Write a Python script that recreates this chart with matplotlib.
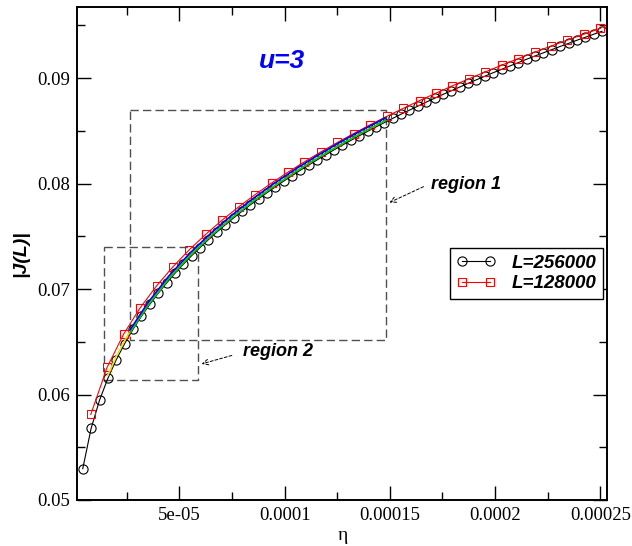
import numpy as np
import matplotlib
matplotlib.use("Agg")
import matplotlib.pyplot as plt
from matplotlib.ticker import FixedLocator, MultipleLocator

# eta values below are in units of 1e-6
eta_256k = [4.09, 8.07, 12.05, 16.03, 20.01, 23.99, 27.96, 31.94, 35.92, 39.90,
            43.88, 47.86, 51.84, 55.82, 59.80, 63.78, 67.75, 71.73, 75.71, 79.69,
            83.67, 87.65, 91.63, 95.61, 99.59, 103.57, 107.54, 111.52, 115.50, 119.48,
            123.46, 127.44, 131.42, 135.40, 139.38, 143.36, 147.33, 151.31, 155.29, 159.27,
            163.25, 167.23, 171.21, 175.19, 179.17, 183.15, 187.12, 191.10, 195.08, 199.06,
            203.04, 207.02, 211.00, 214.98, 218.96, 222.94, 226.91, 230.89, 234.87, 238.85,
            242.83, 246.81, 250.79]
J_256k = [0.05297, 0.05679, 0.05945, 0.06154, 0.06330, 0.06482, 0.06618, 0.06741, 0.06854, 0.06959,
          0.07056, 0.07148, 0.07234, 0.07316, 0.07393, 0.07468, 0.07539, 0.07607, 0.07673, 0.07736,
          0.07797, 0.07856, 0.07913, 0.07969, 0.08023, 0.08075, 0.08127, 0.08176, 0.08225, 0.08272,
          0.08319, 0.08364, 0.08408, 0.08452, 0.08494, 0.08536, 0.08577, 0.08617, 0.08657, 0.08695,
          0.08733, 0.08771, 0.08808, 0.08844, 0.08879, 0.08914, 0.08949, 0.08983, 0.09017, 0.09050,
          0.09082, 0.09114, 0.09146, 0.09178, 0.09209, 0.09239, 0.09269, 0.09299, 0.09328, 0.09358,
          0.09386, 0.09415, 0.09443]

eta_128k = [7.90, 15.71, 23.52, 31.33, 39.14, 46.95, 54.76, 62.57, 70.38, 78.19,
            86.00, 93.81, 101.62, 109.43, 117.24, 125.05, 132.86, 140.67, 148.48, 156.29,
            164.10, 171.91, 179.72, 187.53, 195.34, 203.15, 210.96, 218.77, 226.58, 234.39,
            242.20, 250.01]
J_128k = [0.05811, 0.06260, 0.06573, 0.06821, 0.07029, 0.07211, 0.07373, 0.07519, 0.07654, 0.07779,
          0.07895, 0.08005, 0.08108, 0.08206, 0.08300, 0.08389, 0.08474, 0.08557, 0.08636, 0.08712,
          0.08786, 0.08857, 0.08926, 0.08993, 0.09058, 0.09122, 0.09184, 0.09244, 0.09303, 0.09360,
          0.09416, 0.09471]

# fitted curves: region 1 (blue, green) and region 2 (yellow)
eta_fit1 = [26.5, 35, 45, 55, 65, 75, 85, 95, 105, 115, 125, 135, 148]
J_blue = [0.06610, 0.06869, 0.07123, 0.07340, 0.07530, 0.07701, 0.07857, 0.08001, 0.08135, 0.08259,
          0.08377, 0.08488, 0.08624]
J_green = [0.06585, 0.06844, 0.07098, 0.07315, 0.07505, 0.07676, 0.07832, 0.07976, 0.08110, 0.08234,
           0.08352, 0.08463, 0.08599]
eta_fit2 = [16, 20, 25, 30, 35, 40, 45, 50, 55, 59]
J_yellow = [0.06183, 0.06360, 0.06549, 0.06713, 0.06859, 0.06992, 0.07113, 0.07225, 0.07330, 0.07408]

# (eta_min, eta_max, J_min, J_max)
region1 = (26.3, 148.0, 0.0652, 0.0870)
region2 = (14.1, 58.9, 0.0614, 0.0740)

xticks = [5e-5, 1e-4, 1.5e-4, 2e-4, 2.5e-4]
xticklabels = ["5e-05", "0.0001", "0.00015", "0.0002", "0.00025"]
yticks = [0.05, 0.06, 0.07, 0.08, 0.09]
yticklabels = ["0.05", "0.06", "0.07", "0.08", "0.09"]

serif = "Liberation Serif"
sans = "Liberation Sans"
micro = 1e-6

fig = plt.figure(figsize=(6.32, 5.46), dpi=100)
ax = fig.add_axes([77.3 / 632, 1 - 500 / 546, 530 / 632, 493.3 / 546])

ax.plot(np.array(eta_256k) * micro, J_256k, "-", color="black", lw=0.8, marker="o",
        ms=6.6, mfc="none", mec="black", mew=0.8, label="L=256000", zorder=3)
ax.plot(np.array(eta_128k) * micro, J_128k, "-", color="red", lw=0.8, marker="s",
        ms=6.0, mfc="none", mec="red", mew=0.8, label="L=128000", zorder=4)
ax.plot(np.array(eta_fit2) * micro, J_yellow, color="#e8e800", lw=1.2, zorder=5)
ax.plot(np.array(eta_fit1) * micro, J_green, color="#00d000", lw=1.2, zorder=6)
ax.plot(np.array(eta_fit1) * micro, J_blue, color="blue", lw=1.2, zorder=7)

for x0, x1, y0, y1 in (region1, region2):
    x0, x1 = x0 * micro, x1 * micro
    ax.plot([x0, x1, x1, x0, x0], [y1, y1, y0, y0, y1], color="#505050",
            lw=1.0, dashes=(6, 3), zorder=2)

ax.text(9.86e-5, 0.0916, "u=3", color="blue", fontsize=19, fontweight="bold",
        style="italic", family=sans, ha="center", va="center")

ax.text(1.863e-4, 0.0799, "region 1", fontsize=13, fontweight="bold",
        style="italic", family=sans, ha="center", va="center")
ax.annotate("", xy=(1.498e-4, 0.0782), xytext=(1.66e-4, 0.0797),
            arrowprops=dict(arrowstyle="->", lw=0.7, ls=(0, (3, 2)), color="black",
                            shrinkA=0, shrinkB=0))
ax.text(9.67e-5, 0.0641, "region 2", fontsize=13, fontweight="bold",
        style="italic", family=sans, ha="center", va="center")
ax.annotate("", xy=(6.06e-5, 0.0629), xytext=(7.49e-5, 0.0637),
            arrowprops=dict(arrowstyle="->", lw=0.7, ls=(0, (3, 2)), color="black",
                            shrinkA=0, shrinkB=0))

ax.set_xlim(1.5e-6, 2.533e-4)
ax.set_ylim(0.05, 0.09676)
ax.xaxis.set_major_locator(FixedLocator(xticks))
ax.set_xticklabels(xticklabels)
ax.xaxis.set_minor_locator(MultipleLocator(2.5e-5))
ax.yaxis.set_major_locator(FixedLocator(yticks))
ax.set_yticklabels(yticklabels)
ax.yaxis.set_minor_locator(MultipleLocator(0.005))
ax.tick_params(which="both", direction="in", top=True, right=True, width=1.0)
ax.tick_params(which="major", length=10, pad=5)
ax.tick_params(which="minor", length=5.5)
for lab in ax.get_xticklabels() + ax.get_yticklabels():
    lab.set_family(serif)
    lab.set_fontsize(13.5)
for sp in ax.spines.values():
    sp.set_linewidth(1.4)

ax.set_xlabel("η", family=serif, fontsize=14, labelpad=2)
ax.set_ylabel("|J(L)|", family=sans, fontsize=14, fontweight="bold",
              style="italic", labelpad=6)

leg = ax.legend(loc="upper right", bbox_to_anchor=(0.992, 0.511), numpoints=2,
                handlelength=2.1, handletextpad=0.85, labelspacing=0.2,
                borderpad=0.35, borderaxespad=0, fancybox=False, framealpha=1,
                edgecolor="black",
                prop=dict(family=sans, size=13.5, weight="bold", style="italic"))
leg.get_frame().set_linewidth(1.0)

fig.savefig("out.png", dpi=100)
